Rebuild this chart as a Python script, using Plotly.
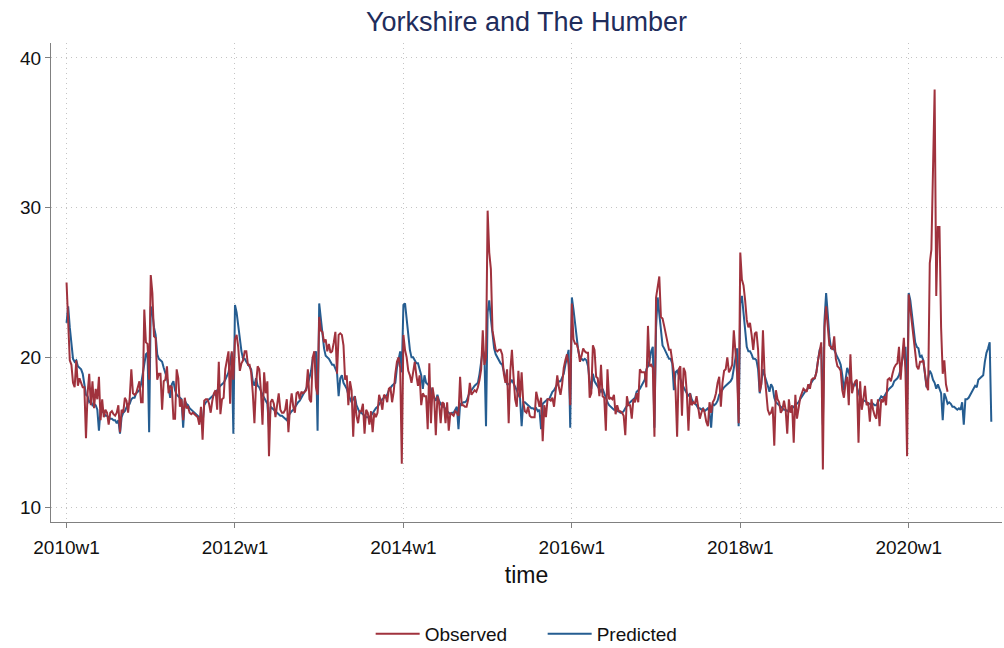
import plotly.graph_objects as go

# ---- data: weekly values (2010w1 .. 2020w52) ----
tick_labels = ["2010w1", "2012w1", "2014w1", "2016w1", "2018w1", "2020w1"]
y_ticks = [10, 20, 30, 40]

pred_2010 = [22.3, 23.4, 22.0, 20.8, 19.9, 19.7, 19.8, 19.4, 19.3, 19.2,
             18.9, 18.2, 17.5, 17.4, 17.0, 17.1, 16.8, 16.9, 16.8, 16.5,
             15.1, 16.5, 16.4, 16.3, 16.1, 16.1, 16.0, 15.9, 15.9, 15.8,
             15.8, 15.6, 15.8, 14.9, 16.0, 16.3, 16.4, 16.6, 16.9, 16.9,
             17.2, 17.3, 17.3, 17.6, 17.7, 17.8, 18.2, 18.8, 19.5, 20.2,
             20.3, 15.0]
pred_2011 = [23.4, 23.0, 22.0, 21.5, 20.2, 19.9, 19.8, 19.7, 19.3, 19.0,
             18.6, 18.0, 17.3, 18.2, 18.4, 17.8, 17.5, 17.4, 17.3, 17.2,
             15.3, 17.1, 16.9, 16.8, 16.6, 16.5, 16.4, 16.3, 16.2, 16.1,
             16.0, 15.9, 15.6, 16.8, 17.0, 17.1, 17.2, 17.3, 17.4, 17.5,
             17.6, 17.8, 18.0, 18.1, 18.2, 18.3, 18.5, 18.7, 19.0, 19.6,
             20.3, 14.9]
pred_2012 = [23.5, 23.0, 22.1, 21.2, 20.4, 19.9, 19.9, 19.7, 19.5, 19.3,
             19.2, 18.4, 18.1, 18.6, 18.1, 18.0, 17.7, 17.5, 17.3, 17.1,
             16.9, 15.3, 16.7, 16.6, 16.5, 16.4, 16.3, 16.2, 16.1, 16.1,
             16.0, 15.9, 15.8, 16.1, 16.3, 16.4, 16.5, 16.7, 16.8, 17.0,
             17.1, 17.3, 17.5, 17.6, 17.9, 18.2, 18.6, 19.1, 19.9, 20.0,
             20.4, 15.1]
pred_2013 = [23.6, 22.5, 21.5, 20.6, 20.1, 20.0, 19.9, 19.7, 19.5, 19.5,
             19.2, 19.0, 17.4, 18.6, 18.8, 18.3, 18.1, 17.9, 17.5, 17.2,
             17.0, 17.2, 17.4, 16.8, 16.6, 16.3, 16.3, 16.2, 16.1, 16.0,
             16.0, 16.0, 16.1, 16.3, 16.5, 16.6, 16.7, 16.9, 17.1, 17.2,
             17.3, 17.4, 17.5, 17.8, 18.0, 18.1, 18.2, 18.3, 19.3, 19.8,
             20.4, 19.0]
pred_2014 = [23.5, 23.6, 22.6, 21.5, 20.5, 20.0, 20.0, 19.8, 19.6, 19.6,
             19.2, 18.8, 17.9, 18.8, 18.3, 18.2, 18.1, 17.9, 17.4, 17.3,
             17.1, 17.5, 17.1, 16.9, 16.7, 16.7, 16.5, 16.4, 16.3, 16.2,
             16.3, 16.3, 16.5, 16.7, 15.2, 16.9, 16.9, 17.0, 17.0, 17.1,
             17.4, 17.7, 17.8, 18.0, 18.1, 18.2, 18.3, 18.9, 19.8, 20.5,
             20.2, 15.4]
pred_2015 = [23.0, 23.8, 22.6, 21.5, 20.6, 20.2, 20.0, 19.7, 19.6, 19.5,
             19.0, 18.5, 18.2, 18.2, 18.3, 18.5, 18.3, 18.0, 17.8, 17.5,
             17.3, 15.4, 17.0, 17.0, 16.9, 16.8, 16.7, 16.6, 16.6, 16.5,
             16.6, 16.4, 16.5, 15.2, 16.9, 17.0, 17.1, 17.2, 17.2, 17.5,
             17.7, 17.8, 18.0, 18.2, 18.4, 18.4, 18.6, 18.9, 19.5, 20.1,
             20.5, 15.3]
pred_2016 = [24.0, 23.2, 22.1, 21.2, 20.4, 20.0, 19.9, 19.8, 19.9, 19.8,
             19.4, 18.4, 17.9, 18.9, 18.4, 18.2, 18.0, 17.8, 17.7, 17.9,
             17.6, 17.2, 17.0, 16.8, 16.7, 16.6, 16.5, 16.5, 16.4, 16.4,
             16.3, 16.3, 16.4, 16.6, 16.8, 16.9, 17.0, 17.1, 17.2, 17.3,
             17.7, 17.8, 17.9, 18.1, 18.3, 18.5, 19.2, 19.4, 19.8, 20.4,
             20.7, 15.3]
pred_2017 = [22.0, 24.0, 22.9, 21.8, 20.8, 20.6, 20.4, 20.1, 19.9, 19.9,
             19.6, 17.8, 19.0, 19.1, 18.8, 18.6, 18.2, 18.0, 17.8, 17.6,
             17.4, 17.6, 17.2, 17.0, 16.9, 16.8, 16.6, 16.6, 16.5, 16.6,
             16.4, 16.5, 16.6, 16.3, 15.3, 16.9, 16.8, 16.9, 17.1, 17.5,
             17.7, 17.9, 18.0, 18.1, 18.2, 18.3, 18.4, 18.6, 19.2, 20.0,
             20.6, 15.4]
pred_2018 = [23.6, 24.1, 22.9, 21.6, 20.7, 20.4, 20.4, 20.2, 19.9, 19.9,
             19.8, 19.2, 17.6, 18.3, 19.2, 18.8, 18.5, 18.1, 17.7, 18.2,
             18.0, 17.3, 17.0, 16.9, 16.8, 16.7, 16.6, 16.5, 16.5, 16.4,
             16.5, 16.4, 16.6, 16.7, 16.8, 16.9, 17.0, 17.2, 17.4, 17.5,
             17.7, 17.8, 18.0, 18.2, 18.4, 18.5, 18.6, 19.0, 19.8, 20.5,
             20.7, 15.5]
pred_2019 = [22.5, 24.3, 22.9, 21.4, 20.6, 20.6, 20.5, 20.2, 20.0, 19.8,
             19.5, 18.8, 17.8, 18.5, 19.3, 19.0, 18.6, 18.2, 18.1, 18.3,
             18.0, 17.6, 17.3, 17.2, 17.1, 17.1, 17.0, 16.9, 16.9, 16.8,
             16.9, 16.8, 16.8, 17.0, 17.3, 17.4, 17.3, 17.4, 17.6, 17.8,
             17.9, 18.0, 18.1, 18.4, 18.5, 18.6, 18.8, 19.2, 19.8, 20.3,
             20.7, 16.5]
pred_2020 = [24.3, 23.8, 22.8, 21.9, 21.0, 20.7, 20.6, 20.0, 20.1, 19.8,
             19.0, 18.0, 18.6, 19.1, 18.9, 18.5, 18.3, 17.9, 18.2, 17.9,
             17.6, 15.8, 17.6, 17.3, 16.9, 17.0, 16.9, 16.7, 16.7, 16.6,
             16.5, 16.6, 16.5, 17.0, 15.5, 17.2, 17.2, 17.3, 17.5, 17.7,
             18.0, 18.1, 18.0, 18.5, 18.6, 18.7, 18.8, 19.7, 20.3, 20.6,
             21.0, 15.7]

obs_2010 = [25.0, 22.0, 19.8, 19.5, 18.3, 18.0, 19.8, 18.1, 18.6, 18.3,
            18.0, 18.0, 14.6, 17.6, 18.9, 16.8, 18.4, 16.6, 17.9, 17.2,
            18.7, 15.8, 17.2, 16.0, 16.5, 16.3, 15.5, 16.3, 16.4, 16.2,
            16.1, 16.3, 16.8, 15.0, 16.5, 16.3, 17.3, 17.1, 16.3, 17.3,
            19.2, 17.6, 17.5, 17.6, 18.1, 18.4, 17.0, 17.0, 23.2, 21.0,
            20.9, 18.5]
obs_2011 = [25.5, 24.3, 21.4, 21.3, 18.5, 18.9, 18.9, 16.5, 18.4, 18.5,
            19.4, 17.6, 18.1, 18.0, 15.9, 15.9, 19.2, 18.6, 16.7, 17.2,
            15.8, 17.3, 16.6, 16.7, 16.3, 16.2, 16.3, 16.2, 16.1, 16.0,
            15.5, 16.7, 14.5, 17.1, 17.2, 17.2, 16.9, 16.3, 17.1, 17.6,
            17.8, 16.5, 19.7, 16.2, 17.2, 17.3, 19.2, 19.8, 20.4, 16.9,
            20.4, 18.5]
obs_2012 = [21.2, 21.5, 20.7, 19.1, 19.6, 19.8, 20.4, 20.4, 19.5, 19.5,
            19.0, 17.6, 15.6, 18.2, 19.4, 19.2, 17.8, 15.5, 19.0, 17.6,
            18.4, 13.4, 17.0, 17.2, 16.9, 16.0, 17.0, 17.6, 16.5, 16.3,
            16.3, 16.5, 17.2, 15.0, 16.7, 17.6, 16.7, 16.3, 17.6, 17.7,
            17.2, 17.7, 17.6, 17.7, 17.8, 19.2, 17.2, 17.0, 20.0, 20.4,
            18.0, 17.5]
obs_2013 = [22.7, 21.8, 21.7, 21.0, 21.2, 20.4, 20.9, 20.3, 20.4, 21.0,
            21.7, 18.9, 21.5, 21.6, 21.5, 20.8, 18.5, 18.8, 16.8, 18.4,
            17.8, 14.7, 17.4, 16.1, 15.6, 16.4, 16.4, 16.9, 14.9, 16.5,
            16.3, 15.5, 16.4, 15.0, 16.3, 16.0, 16.3, 17.5, 17.1, 16.5,
            17.5, 17.4, 17.0, 17.9, 18.0, 17.0, 17.7, 18.9, 19.7, 20.0,
            19.3, 12.9]
obs_2014 = [21.5, 20.5, 20.0, 19.1, 18.8, 18.3, 19.0, 19.7, 18.8, 18.1,
            18.8, 16.8, 17.6, 17.4, 17.4, 15.2, 19.6, 15.6, 18.0, 17.3,
            14.8, 17.4, 17.0, 15.6, 17.0, 16.9, 15.6, 17.0, 15.1, 16.3,
            16.2, 16.1, 16.4, 16.3, 16.1, 18.7, 16.8, 16.8, 16.7, 16.7,
            17.2, 18.3, 17.5, 17.7, 17.8, 17.7, 18.0, 18.5, 19.2, 21.8,
            19.5, 20.0]
obs_2015 = [29.8, 27.0, 25.9, 21.8, 21.2, 20.5, 20.4, 20.5, 20.5, 20.2,
            18.9, 18.3, 19.2, 15.6, 19.1, 20.5, 18.7, 17.2, 16.7, 19.1,
            17.3, 19.0, 17.0, 16.4, 16.3, 16.7, 16.1, 16.0, 16.0, 16.0,
            17.7, 17.1, 16.7, 17.3, 14.4, 16.8, 16.0, 17.2, 17.2, 17.1,
            17.3, 16.7, 17.6, 18.8, 18.0, 17.5, 18.2, 19.3, 19.8, 20.2,
            19.5, 16.8]
obs_2016 = [23.6, 21.2, 20.9, 20.9, 20.5, 19.7, 20.1, 20.6, 20.4, 20.3,
            20.3, 17.3, 17.6, 20.8, 20.5, 18.7, 18.6, 17.4, 19.5, 17.4,
            17.3, 15.1, 19.2, 17.2, 17.3, 17.2, 17.5, 16.2, 16.8, 16.4,
            16.4, 16.3, 16.1, 14.8, 17.4, 16.8, 16.8, 15.9, 17.2, 17.0,
            17.6, 17.0, 19.2, 19.0, 19.0, 19.0, 18.0, 22.1, 19.4, 19.5,
            19.3, 14.7]
obs_2017 = [24.0, 24.8, 25.4, 22.7, 22.6, 22.1, 21.6, 21.1, 20.5, 20.5,
            19.8, 19.0, 17.9, 14.7, 19.2, 19.4, 16.1, 19.3, 19.0, 17.6,
            15.1, 17.6, 16.8, 17.0, 16.9, 17.4, 16.7, 15.9, 16.3, 16.6,
            16.3, 15.7, 15.4, 17.0, 16.3, 17.0, 17.2, 17.6, 18.3, 18.7,
            16.7, 18.3, 19.1, 19.2, 20.0, 19.0, 19.2, 19.5, 21.8, 20.0,
            19.0, 15.6]
obs_2018 = [27.0, 25.2, 24.8, 23.8, 22.5, 22.0, 22.3, 21.5, 20.5, 21.6,
            21.7, 20.5, 17.7, 18.2, 21.8, 18.9, 17.4, 16.5, 16.2, 16.3,
            16.7, 14.1, 17.8, 17.2, 17.0, 16.3, 16.5, 17.1, 16.5, 14.9,
            17.2, 16.3, 16.8, 14.3, 17.5, 15.9, 16.6, 17.3, 17.6, 17.9,
            17.8, 17.7, 18.2, 17.9, 18.5, 18.6, 18.6, 19.0, 19.8, 20.5,
            21.0, 12.5]
obs_2019 = [22.0, 23.4, 22.0, 20.8, 20.7, 20.5, 21.4, 19.9, 19.4, 19.3,
            19.1, 17.8, 17.3, 18.3, 18.7, 16.8, 20.2, 17.6, 18.1, 18.4,
            18.5, 14.3, 18.4, 16.5, 17.2, 18.1, 16.8, 17.0, 15.7, 17.2,
            16.5, 16.1, 15.9, 17.2, 15.4, 17.2, 17.0, 17.4, 16.8, 18.5,
            18.6, 18.4, 18.9, 19.3, 19.5, 19.6, 20.7, 18.5, 20.0, 21.3,
            19.0, 13.4]
obs_2020 = [24.2, 23.3, 22.2, 21.3, 20.3, 19.4, 19.2, 19.7, 19.7, 19.8,
            19.0, 18.1, 17.8, 26.3, 27.2, 32.5, 37.9, 24.1, 28.7, 28.7,
            22.0, 18.9, 19.8, 18.2, 17.7]

predicted = (pred_2010 + pred_2011 + pred_2012 + pred_2013 + pred_2014 + pred_2015
             + pred_2016 + pred_2017 + pred_2018 + pred_2019 + pred_2020)
observed = (obs_2010 + obs_2011 + obs_2012 + obs_2013 + obs_2014 + obs_2015
            + obs_2016 + obs_2017 + obs_2018 + obs_2019 + obs_2020)

# weekly time index: 0 = 2010w1, 52 weeks per year
t_pred = list(range(len(predicted)))
t_obs = list(range(len(observed)))
tick_vals = [(int(lbl[:4]) - 2010) * 52 for lbl in tick_labels]

RED = "#a0323d"
BLUE = "#255d91"
FONT = "Liberation Sans, Arial, Helvetica, sans-serif"

fig = go.Figure()
fig.add_trace(go.Scatter(x=t_pred, y=predicted, mode="lines", name="Predicted",
                         line=dict(color=BLUE, width=2)))
fig.add_trace(go.Scatter(x=t_obs, y=observed, mode="lines", name="Observed",
                         line=dict(color=RED, width=2)))

axis_common = dict(
    showline=True, linecolor="#808080", linewidth=1,
    ticks="outside", ticklen=5, tickcolor="#808080", tickwidth=1,
    showgrid=True, gridcolor="#c4c4c4", gridwidth=1, griddash="1px,4px",
    zeroline=False, automargin=False,
    tickfont=dict(size=19, color="#111111", family=FONT),
)

fig.update_layout(
    width=1004, height=648,
    paper_bgcolor="white", plot_bgcolor="white",
    margin=dict(l=51, r=2, t=43, b=126),
    font=dict(family=FONT, color="#111111"),
    title=dict(text="Yorkshire and The Humber", x=0.5, xref="paper", xanchor="center",
               y=1 - 22 / 648, yanchor="middle",
               font=dict(size=27, color="#1f2d5c", family=FONT)),
    xaxis=dict(range=[-9.6, 577.6], tickvals=tick_vals, ticktext=tick_labels,
               ticklabelstandoff=3,
               title=dict(text="time", font=dict(size=23, color="#111111"), standoff=10),
               **axis_common),
    yaxis=dict(range=[9.0, 41.0], tickvals=y_ticks, **axis_common),
    legend=dict(orientation="h", x=0.517, xanchor="center",
                yref="container", y=1 - 634 / 648, yanchor="middle",
                traceorder="reversed", font=dict(size=19, color="#111111"),
                itemwidth=44, entrywidth=113, entrywidthmode="pixels",
                bgcolor="rgba(0,0,0,0)"),
    showlegend=True,
)

fig.write_html("out.html", config={"displayModeBar": False},
               post_script="document.body.style.margin='0';")
